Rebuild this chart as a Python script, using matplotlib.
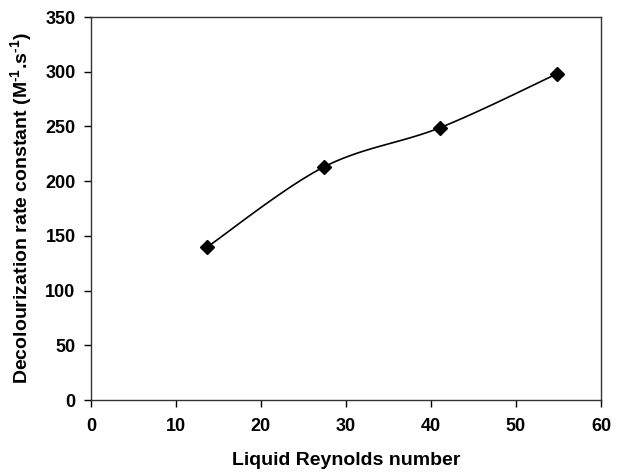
import numpy as np
import matplotlib.pyplot as plt

plt.rcParams['font.family'] = 'Liberation Sans'
plt.rcParams['font.weight'] = 'bold'
plt.rcParams['mathtext.fontset'] = 'custom'
plt.rcParams['mathtext.rm'] = 'Liberation Sans:bold'
plt.rcParams['mathtext.bf'] = 'Liberation Sans:bold'
plt.rcParams['mathtext.default'] = 'bf'

reynolds = [13.7, 27.4, 41.1, 54.8]
rate_constant = [140, 213, 249, 298]


def smooth(x, y, n=40):
    # Catmull-Rom style bezier through the points (like a spreadsheet "smoothed line")
    x = np.asarray(x, float)
    y = np.asarray(y, float)
    px = np.concatenate([[x[0]], x, [x[-1]]])
    py = np.concatenate([[y[0]], y, [y[-1]]])
    xs, ys = [], []
    t = np.linspace(0, 1, n)
    for i in range(1, len(px) - 2):
        p0 = np.array([px[i], py[i]])
        p3 = np.array([px[i + 1], py[i + 1]])
        c1 = p0 + (np.array([px[i + 1], py[i + 1]]) - np.array([px[i - 1], py[i - 1]])) / 6
        c2 = p3 - (np.array([px[i + 2], py[i + 2]]) - np.array([px[i], py[i]])) / 6
        b = ((1 - t) ** 3)[:, None] * p0 + (3 * (1 - t) ** 2 * t)[:, None] * c1 \
            + (3 * (1 - t) * t ** 2)[:, None] * c2 + (t ** 3)[:, None] * p3
        xs.extend(b[:, 0])
        ys.extend(b[:, 1])
    return xs, ys


fig = plt.figure(figsize=(6.4, 4.73), dpi=100)
ax = fig.add_axes([0.142, 0.154, 0.797, 0.810])

sx, sy = smooth(reynolds, rate_constant)
ax.plot(sx, sy, color='black', lw=1.2)
ax.plot(reynolds, rate_constant, 'D', color='black', markersize=7)

ax.set_xlim(0, 60)
ax.set_ylim(0, 350)
ax.set_xticks(range(0, 61, 10))
ax.set_yticks(range(0, 351, 50))
ax.tick_params(direction='out', length=5, width=1, labelsize=13)
ax.tick_params(axis='y', pad=6)
ax.tick_params(axis='x', pad=8)
for s in ax.spines.values():
    s.set_linewidth(1)
    s.set_color('#333333')

ax.set_xlabel('Liquid Reynolds number', fontsize=14, fontweight='bold', labelpad=12)
ax.set_ylabel(r'Decolourization rate constant (M$^{\text{-}1}$.s$^{\text{-}1}$)', fontsize=14,
              fontweight='bold', labelpad=8)

fig.savefig('out.png', dpi=100)
